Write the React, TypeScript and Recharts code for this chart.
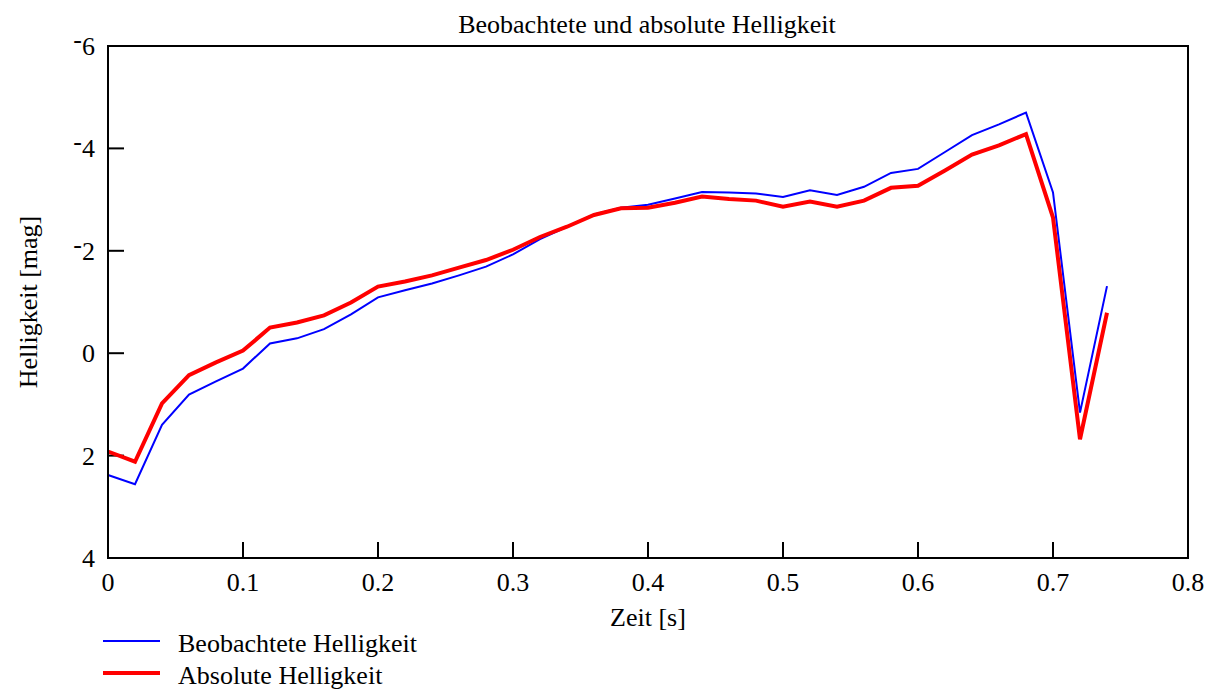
import {
  Legend,
  Line,
  LineChart,
  ReferenceArea,
  ReferenceLine,
  XAxis,
  YAxis,
} from 'recharts'

const font = '"Liberation Serif", "Times New Roman", serif'
const fontSize = 26
const textProps = { fontFamily: font, fontSize, fill: '#000' }

// time in seconds
const time = [
  0, 0.02, 0.04, 0.06, 0.08, 0.1, 0.12, 0.14, 0.16, 0.18, 0.2, 0.22, 0.24,
  0.26, 0.28, 0.3, 0.32, 0.34, 0.36, 0.38, 0.4, 0.42, 0.44, 0.46, 0.48, 0.5,
  0.52, 0.54, 0.56, 0.58, 0.6, 0.62, 0.64, 0.66, 0.68, 0.7, 0.72, 0.74,
]

const observed = [
  2.38, 2.56, 1.4, 0.81, 0.55, 0.3, -0.19, -0.29, -0.47, -0.76, -1.09, -1.23,
  -1.36, -1.52, -1.69, -1.93, -2.23, -2.47, -2.71, -2.84, -2.9, -3.02, -3.15,
  -3.14, -3.12, -3.05, -3.18, -3.09, -3.25, -3.52, -3.6, -3.93, -4.26, -4.47,
  -4.7, -3.14, 1.16, -1.31,
]

const absolute = [
  1.92, 2.12, 0.98, 0.43, 0.18, -0.05, -0.5, -0.6, -0.74, -0.99, -1.3, -1.4,
  -1.52, -1.67, -1.82, -2.02, -2.27, -2.47, -2.7, -2.83, -2.84, -2.94, -3.06,
  -3.01, -2.98, -2.86, -2.96, -2.86, -2.98, -3.23, -3.27, -3.57, -3.88, -4.06,
  -4.28, -2.65, 1.68, -0.79,
]

const xTicks = [0, 0.1, 0.2, 0.3, 0.4, 0.5, 0.6, 0.7, 0.8]
const yTicks = [-6, -4, -2, 0, 2, 4]

const title = 'Beobachtete und absolute Helligkeit'
const xLabel = 'Zeit [s]'
const yLabel = 'Helligkeit [mag]'
const seriesNames = ['Beobachtete Helligkeit', 'Absolute Helligkeit']
const seriesColors = ['#0000ff', '#ff0000']
const seriesWidths = [2, 4]

const data = time.map((t, i) => ({
  t,
  observed: observed[i],
  absolute: absolute[i],
}))

const xDomain = [0, 0.8]
const yDomain = [-6, 4]
// inward tick marks, ~16px long in a 1080x512 plot
const xTickLen = (16 / 1080) * (xDomain[1] - xDomain[0])
const yTickLen = (16 / 512) * (yDomain[1] - yDomain[0])

const black = { stroke: '#000', strokeWidth: 2 }

// minus sign sits raised, Mathcad style
const YTick = ({ x, y, payload }: any) => {
  const v = payload.value as number
  return (
    <text x={x} y={y + 9} textAnchor="end" {...textProps}>
      {v < 0 ? (
        <>
          <tspan dy={-7}>-</tspan>
          <tspan dy={7}>{Math.abs(v)}</tspan>
        </>
      ) : (
        v
      )}
    </text>
  )
}

const XTick = ({ x, y, payload }: any) => (
  <text x={x} y={y + 9} textAnchor="middle" {...textProps}>
    {payload.value}
  </text>
)

const LegendContent = () => (
  <svg width={500} height={65} style={{ display: 'block' }}>
    {seriesNames.map((name, i) => (
      <g key={name}>
        <line
          x1={103}
          x2={160}
          y1={15 + 32 * i}
          y2={15 + 32 * i}
          stroke={seriesColors[i]}
          strokeWidth={seriesWidths[i]}
        />
        <text x={178} y={17 + 32 * i + 9} {...textProps}>
          {name}
        </text>
      </g>
    ))}
  </svg>
)

export default function App() {
  return (
    <>
      <style>{'body{margin:0;overflow:hidden}'}</style>
      <LineChart
        width={1208}
        height={691}
        data={data}
        margin={{ top: 46, right: 20, bottom: 0, left: 0 }}
      >
        <text x={647} y={24 + 9} textAnchor="middle" {...textProps}>
          {title}
        </text>
        <XAxis
          dataKey="t"
          type="number"
          domain={xDomain}
          ticks={xTicks}
          interval={0}
          height={68}
          tickSize={0}
          tickMargin={24}
          tickLine={false}
          tick={<XTick />}
          axisLine={black}
          label={{
            content: ({ viewBox }: any) => (
              <text
                x={viewBox.x + viewBox.width / 2}
                y={617 + 9}
                textAnchor="middle"
                {...textProps}
              >
                {xLabel}
              </text>
            ),
          }}
        />
        <YAxis
          type="number"
          domain={yDomain}
          reversed
          ticks={yTicks}
          interval={0}
          width={108}
          tickSize={0}
          tickMargin={13}
          tickLine={false}
          tick={<YTick />}
          axisLine={black}
          label={{
            content: ({ viewBox }: any) => {
              const cy = viewBox.y + viewBox.height / 2
              return (
                <text
                  x={28}
                  y={cy}
                  dy={9}
                  transform={`rotate(-90 28 ${cy})`}
                  textAnchor="middle"
                  {...textProps}
                >
                  {yLabel}
                </text>
              )
            },
          }}
        />
        <ReferenceArea
          x1={xDomain[0]}
          x2={xDomain[1]}
          y1={yDomain[0]}
          y2={yDomain[1]}
          fill="none"
          fillOpacity={0}
          stroke="#000"
          strokeWidth={2}
          strokeOpacity={1}
        />
        {xTicks.slice(1, -1).map((t) => (
          <ReferenceLine
            key={`xt-${t}`}
            segment={[
              { x: t, y: yDomain[1] },
              { x: t, y: yDomain[1] - yTickLen },
            ]}
            {...black}
            strokeOpacity={1}
            ifOverflow="visible"
          />
        ))}
        {yTicks.slice(1, -1).map((v) => (
          <ReferenceLine
            key={`yt-${v}`}
            segment={[
              { x: xDomain[0], y: v },
              { x: xDomain[0] + xTickLen, y: v },
            ]}
            {...black}
            strokeOpacity={1}
            ifOverflow="visible"
          />
        ))}
        <Line
          type="linear"
          dataKey="observed"
          name={seriesNames[0]}
          stroke={seriesColors[0]}
          strokeWidth={seriesWidths[0]}
          dot={false}
          activeDot={false}
          isAnimationActive={false}
        />
        <Line
          type="linear"
          dataKey="absolute"
          name={seriesNames[1]}
          stroke={seriesColors[1]}
          strokeWidth={seriesWidths[1]}
          dot={false}
          activeDot={false}
          isAnimationActive={false}
        />
        <Legend
          verticalAlign="bottom"
          align="left"
          content={<LegendContent />}
          wrapperStyle={{ margin: 0, padding: 0 }}
        />
      </LineChart>
    </>
  )
}
